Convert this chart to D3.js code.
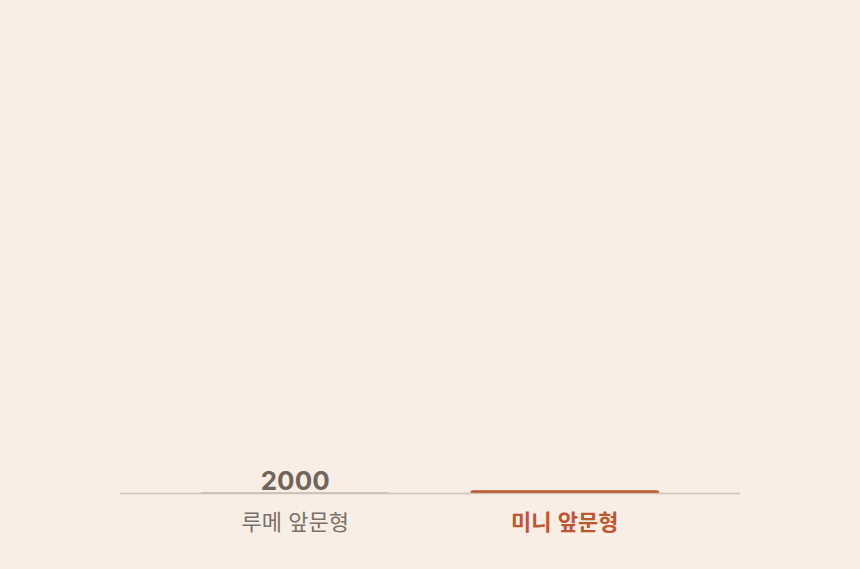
<!DOCTYPE html>
<html lang="ko">
<head>
  <meta charset="utf-8">
  <script src="https://d3js.org/d3.v7.min.js"></script>
  <style>
    body {
      margin: 0;
      background: #f9eee5;
    }
    .value {
      font-family: Inter, "Noto Sans CJK KR", sans-serif;
      font-size: 26px;
      font-weight: 700;
      fill: #70665d;
    }
    .cat {
      font-family: "Noto Sans CJK KR", sans-serif;
      font-size: 22px;
      fill: #7a716a;
    }
    .cat.on {
      font-weight: 700;
      fill: #c0562f;
    }
  </style>
</head>
<body>
  <script>
    // data
    var categories = ["루메 앞문형", "미니 앞문형"];
    var values = [2000, 6000];
    var highlight = "미니 앞문형";
    var yMax = 1000000;

    var w = 860,
      h = 569,
      left = 120,
      right = 740,
      plotTop = 60,
      base = 493.5;

    var svg = d3.select("body")
      .append("svg")
      .attr("width", w)
      .attr("height", h);

    var x = d3.scaleBand()
      .domain(categories)
      .range([left, right])
      .padding(0.3);

    var y = d3.scaleLinear()
      .domain([0, yMax])
      .range([base, plotTop]);

    var rows = categories.map(function (c, i) {
      return { cat: c, v: values[i] };
    });

    // bars (only the highlighted one gets colour)
    svg.selectAll("rect.bar")
      .data(rows)
      .enter()
      .append("rect")
      .attr("class", "bar")
      .attr("x", function (d) { return x(d.cat); })
      .attr("width", x.bandwidth())
      .attr("y", function (d) { return y(d.v) - 0.6; })
      .attr("height", function (d) { return base - y(d.v) + 0.6; })
      .attr("rx", 3)
      .attr("fill", function (d) { return d.cat === highlight ? "#c0562f" : "#cfc3b8"; });

    // baseline
    svg.append("line")
      .attr("x1", left)
      .attr("x2", right)
      .attr("y1", base)
      .attr("y2", base)
      .attr("stroke", "#cfc3b8")
      .attr("stroke-width", 1.5);

    // value label, non-highlighted only
    svg.selectAll("text.value")
      .data(rows.filter(function (d) { return d.cat !== highlight; }))
      .enter()
      .append("text")
      .attr("class", "value")
      .attr("x", function (d) { return x(d.cat) + x.bandwidth() / 2; })
      .attr("y", function (d) { return y(d.v) - 3; })
      .attr("text-anchor", "middle")
      .text(function (d) { return d.v; });

    // category labels
    svg.selectAll("text.cat")
      .data(categories)
      .enter()
      .append("text")
      .attr("class", function (d) { return d === highlight ? "cat on" : "cat"; })
      .attr("x", function (d) { return x(d) + x.bandwidth() / 2; })
      .attr("y", base + 36)
      .attr("text-anchor", "middle")
      .text(function (d) { return d; });
  </script>
</body>
</html>
